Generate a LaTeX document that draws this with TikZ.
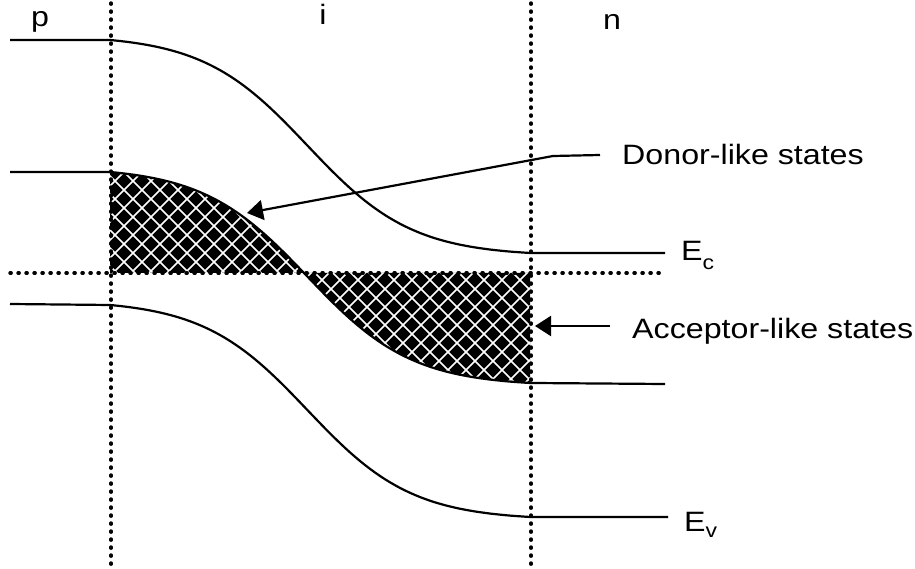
\documentclass[tikz,border=0pt]{standalone}
\usepackage{fontspec}
\setmainfont{Liberation Sans}
\newfontfamily\lblfont[FakeStretch=1.15]{Liberation Sans}
\usetikzlibrary{arrows.meta}
\pgfmathdeclarefunction{bandf}{1}{%
  \pgfmathparse{(1/(1+exp(-8*((#1-110)/420-0.47)))-0.0228)/0.963}}
\begin{document}
\begin{tikzpicture}[x=1pt,y=-1pt,
  band/.style={line width=2.2pt, line join=round},
  dotline/.style={line width=3.4pt, dash pattern=on 1.2pt off 6.8pt, line cap=round},
  lbl/.style={font=\lblfont\fontsize{28}{30}\selectfont, inner sep=0pt},
  pointer/.style={line width=2.2pt, -{Triangle[length=16pt,width=20pt]}},
  hatch/.style={white, line width=1.7pt}]
\useasboundingbox[fill=white] (0,0) rectangle (915,569);

% hatched trap regions
\begin{scope}
\clip plot[domain=110:530, samples=85] (\x,{172+211*bandf(\x)}) -- (530,273) -- (110,273) -- cycle;
\fill[black] (100,160) rectangle (540,400);
\foreach \k in {-200,-182,...,860} {
  \draw[hatch] (\k,100) -- ++(400,400);
  \draw[hatch] (\k,100) -- ++(-400,400);
}
\end{scope}

% dotted lines
\draw[dotline] (111,3) -- (111,569);
\draw[dotline] (531,3) -- (531,569);
\draw[dotline] (10,273) -- (665,273);

% bands
\draw[band] (10,40) -- plot[domain=110:530, samples=85] (\x,{40+213*bandf(\x)}) -- (665,253);
\draw[band] (10,172) -- plot[domain=110:530, samples=85] (\x,{172+211*bandf(\x)}) -- (665,384);
\draw[band] (10,304) -- plot[domain=110:530, samples=85] (\x,{305+212*bandf(\x)}) -- (668,517);

% region labels
\node[lbl, anchor=base west] (lp) at (31,27) {p};
\node[lbl, anchor=base] (li) at (323,25) {i};
\node[lbl, anchor=base] (ln) at (612,30) {n};

% band labels
\node[lbl, anchor=base west] (ec) at (681,261) {E\raisebox{-9pt}{\fontsize{20}{20}\selectfont c}};
\node[lbl, anchor=base west] (ev) at (684,531) {E\raisebox{-6pt}{\fontsize{20}{20}\selectfont v}};

% state labels and pointers
\node[lbl, anchor=base west] (donor) at (622,165) {Donor-like states};
\node[lbl, anchor=base west] (acceptor) at (632,338) {Acceptor-like states};
\coordinate (dstart) at (600,155);
\coordinate (dbend) at (553,156);
\coordinate (dtip) at (247,213);
\coordinate (astart) at (610,326);
\coordinate (atip) at (535,326);
\draw[pointer] (dstart) -- (dbend) -- (dtip);
\draw[pointer] (astart) -- (atip);
\end{tikzpicture}
\end{document}
